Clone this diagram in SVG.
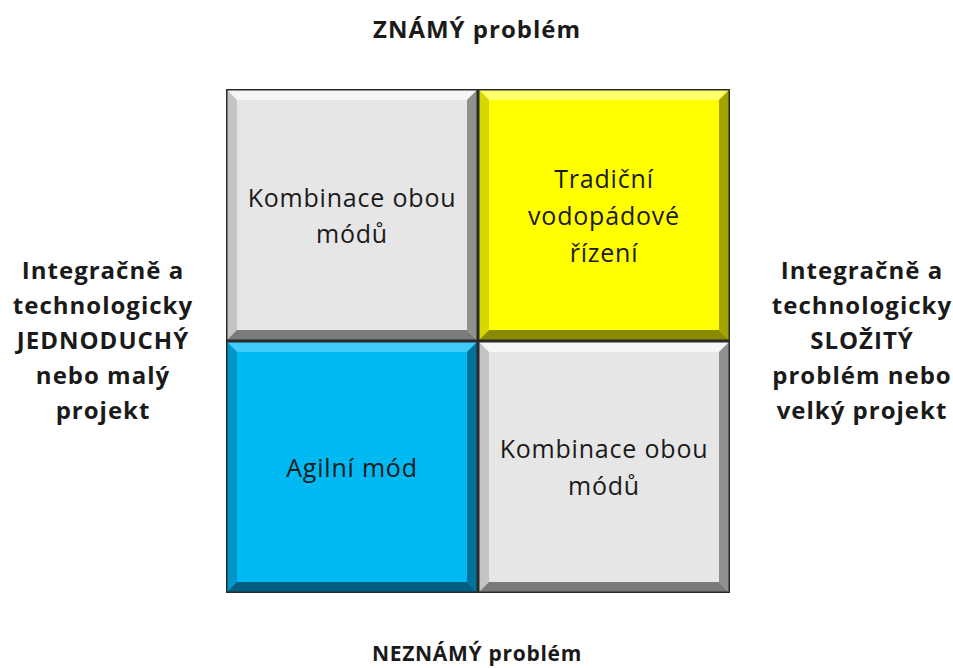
<svg xmlns="http://www.w3.org/2000/svg" width="953" height="668" viewBox="0 0 953 668">
  <style>
    .lbl { font-family: "Open Sans", "Lato", "Liberation Sans", sans-serif; font-weight: bold; font-size: 24px; letter-spacing: 1px; fill: #1a1a1a; text-anchor: middle; }
    .tile-text { font-family: "Open Sans", "Lato", "Liberation Sans", sans-serif; font-size: 25px; letter-spacing: 0.8px; fill: #1a1a1a; text-anchor: middle; }
    .edge { fill: none; stroke: #2a2a2a; stroke-width: 1.5; }
  </style>
  <defs>
    <!-- bevelled tile shape: 252x252, bevel 11 -->
    <g id="bevel-grey">
      <rect x="0" y="0" width="252" height="252" fill="#e6e6e6"/>
      <polygon points="0,0 252,0 241,11 11,11" fill="#f6f6f6"/>
      <polygon points="0,0 11,11 11,241 0,252" fill="#c4c4c4"/>
      <polygon points="252,0 252,252 241,241 241,11" fill="#8f8f8f"/>
      <polygon points="0,252 11,241 241,241 252,252" fill="#7a7a7a"/>
      <rect class="edge" x="0.75" y="0.75" width="250.5" height="250.5"/>
    </g>
    <g id="bevel-yellow">
      <rect x="0" y="0" width="252" height="252" fill="#ffff00"/>
      <polygon points="0,0 252,0 241,11 11,11" fill="#ffff6a"/>
      <polygon points="0,0 11,11 11,241 0,252" fill="#d6d600"/>
      <polygon points="252,0 252,252 241,241 241,11" fill="#a3a300"/>
      <polygon points="0,252 11,241 241,241 252,252" fill="#8a8a00"/>
      <rect class="edge" x="0.75" y="0.75" width="250.5" height="250.5"/>
    </g>
    <g id="bevel-blue">
      <rect x="0" y="0" width="252" height="252" fill="#00b9f2"/>
      <polygon points="0,0 252,0 241,11 11,11" fill="#3fcdfb"/>
      <polygon points="0,0 11,11 11,241 0,252" fill="#0096c8"/>
      <polygon points="252,0 252,252 241,241 241,11" fill="#00729a"/>
      <polygon points="0,252 11,241 241,241 252,252" fill="#005e82"/>
      <rect class="edge" x="0.75" y="0.75" width="250.5" height="250.5"/>
    </g>
  </defs>

  <rect width="953" height="668" fill="#ffffff"/>

  <g id="axis-top">
    <text class="lbl" x="477" y="38">ZNÁMÝ problém</text>
  </g>
  <g id="axis-bottom">
    <text class="lbl" x="477" y="661" style="font-size:21px;letter-spacing:0.7px">NEZNÁMÝ problém</text>
  </g>
  <g id="axis-left">
    <text class="lbl" x="103" y="279">Integračně a</text>
    <text class="lbl" x="103" y="314">technologicky</text>
    <text class="lbl" x="103" y="349">JEDNODUCHÝ</text>
    <text class="lbl" x="103" y="384">nebo malý</text>
    <text class="lbl" x="103" y="419">projekt</text>
  </g>
  <g id="axis-right">
    <text class="lbl" x="862" y="279">Integračně a</text>
    <text class="lbl" x="862" y="314">technologicky</text>
    <text class="lbl" x="862" y="349">SLOŽITÝ</text>
    <text class="lbl" x="862" y="384">problém nebo</text>
    <text class="lbl" x="862" y="419">velký projekt</text>
  </g>

  <g id="tile-top-left">
    <use href="#bevel-grey" x="226" y="89"/>
    <text class="tile-text" x="352" y="207">Kombinace obou</text>
    <text class="tile-text" x="352" y="243">módů</text>
  </g>
  <g id="tile-top-right">
    <use href="#bevel-yellow" x="478" y="89"/>
    <text class="tile-text" x="604" y="188">Tradiční</text>
    <text class="tile-text" x="604" y="225">vodopádové</text>
    <text class="tile-text" x="604" y="262">řízení</text>
  </g>
  <g id="tile-bottom-left">
    <use href="#bevel-blue" x="226" y="341"/>
    <text class="tile-text" x="352" y="477">Agilní mód</text>
  </g>
  <g id="tile-bottom-right">
    <use href="#bevel-grey" x="478" y="341"/>
    <text class="tile-text" x="604" y="458">Kombinace obou</text>
    <text class="tile-text" x="604" y="495">módů</text>
  </g>

  <g id="connectors"/>
</svg>
